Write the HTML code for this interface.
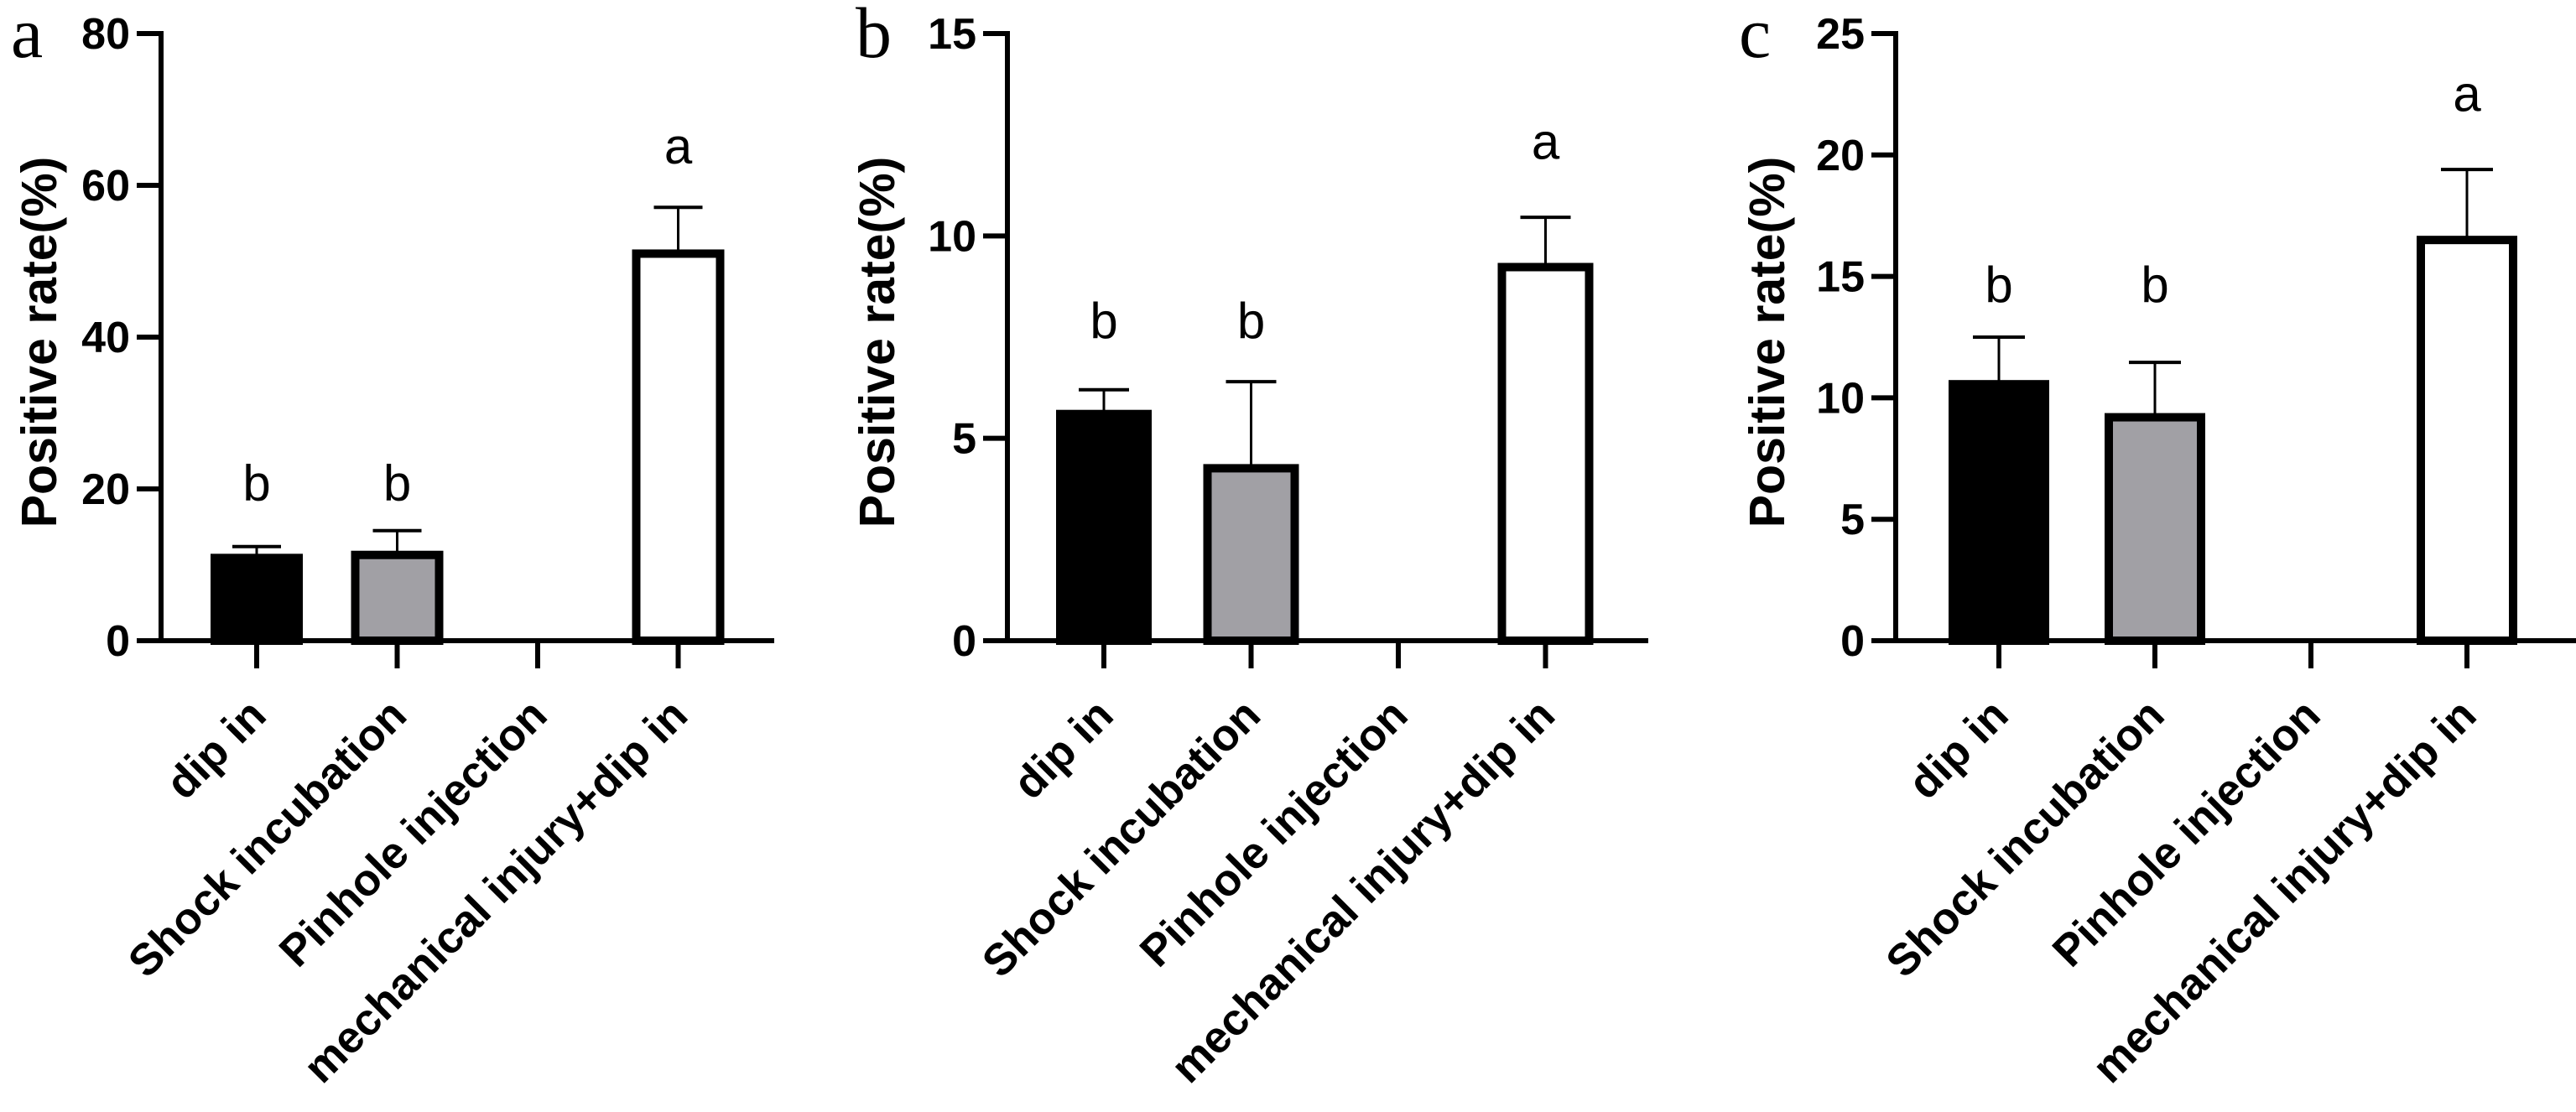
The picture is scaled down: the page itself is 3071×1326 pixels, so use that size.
<!DOCTYPE html>
<html><head><meta charset="utf-8"><style>
html,body{margin:0;padding:0;background:#fff;}
svg{display:block;}
text{font-family:"Liberation Sans",Arial,sans-serif;}
</style></head><body>
<svg id="fig" width="3071" height="1326" viewBox="0 0 3071 1326" xmlns="http://www.w3.org/2000/svg"></svg>
<script>
const categories = ["dip in","Shock incubation","Pinhole injection","mechanical injury+dip in"];
const panelLabels = ["a","b","c"];
const yMaxes = [80,15,25];
const yTickLabels = [["0","20","40","60","80"],["0","5","10","15"],["0","5","10","15","20","25"]];
const yTickValues = [[0,20,40,60,80],[0,5,10,15],[0,5,10,15,20,25]];
const meansA = [10.9,11.3,0,51.0];
const errTopA = [12.4,14.5,0,57.1];
const meansB = [5.6,4.26,0,9.23];
const errTopB = [6.2,6.4,0,10.46];
const meansC = [10.56,9.2,0,16.5];
const errTopC = [12.5,11.46,0,19.4];
const sigLetters = ["b","b","","a"];
const letterLevelA = [18.5,18.5,0,62.9];
const letterLevelB = [7.48,7.48,0,11.9];
const letterLevelC = [13.95,13.95,0,21.8];
const meansAll = [meansA,meansB,meansC];
const errAll = [errTopA,errTopB,errTopC];
const lettersAll = [letterLevelA,letterLevelB,letterLevelC];

// layout (pixels)
const layout = [
  {ax:192, x0:306, step:167.5, end:923, bw:110, lx:13, tx:67, cap:58},
  {ax:1201, x0:1316, step:175.5, end:1965, bw:114, lx:1020, tx:1066, cap:60},
  {ax:2260, x0:2383, step:186, end:3071, bw:120, lx:2073, tx:2127, cap:62}
];
const yTop = 40, y0 = 764;
const fills = ["#000000","#a1a0a5","none","#ffffff"];
const NS = "http://www.w3.org/2000/svg";
const svg = document.getElementById('fig');
function mk(tag, attrs, parent){ const e=document.createElementNS(NS,tag); for(const k in attrs) e.setAttribute(k,attrs[k]); (parent||svg).appendChild(e); return e; }

layout.forEach((L,p)=>{
  const g = mk('g',{});
  
  
  const ymax = yMaxes[p];
  const yS = v => y0 - (v/ymax)*(y0-yTop);
  const xS = i => L.x0 + i*L.step;

  const pl = mk('text',{x:L.lx,y:68,'font-size':86,style:'font-family:"Liberation Serif",serif'},g);
  pl.textContent = panelLabels[p];
  
  

  const tt = mk('text',{x:L.tx,y:408,'font-size':59,'font-weight':'bold','text-anchor':'middle',transform:`rotate(-90 ${L.tx} 408)`},g);
  tt.textContent = "Positive rate(%)";
  
  

  meansAll[p].forEach((v,i)=>{
    if(v<=0) return;
    const cx = xS(i);
    const et = errAll[p][i];
    const eb = mk('line',{x1:cx,x2:cx,y1:yS(v),y2:yS(et),stroke:'#000','stroke-width':3},g);
    
    
    const ec = mk('line',{x1:cx-L.cap/2,x2:cx+L.cap/2,y1:yS(et),y2:yS(et),stroke:'#000','stroke-width':4},g);
    
    
    const r = mk('rect',{x:cx-L.bw/2+5,y:yS(v),width:L.bw-10,height:y0-yS(v),fill:fills[i],stroke:'#000','stroke-width':10},g);
    
    
  });

  sigLetters.forEach((s,i)=>{
    if(!s) return;
    const t = mk('text',{x:xS(i),y:yS(lettersAll[p][i]),'font-size':60,'text-anchor':'middle'},g);
    t.textContent = s;
    
    
  });

  const ya = mk('line',{x1:L.ax,x2:L.ax,y1:yTop-3,y2:y0+3,stroke:'#000','stroke-width':6},g);
  
  
  const xa = mk('line',{x1:L.ax-3,x2:L.end,y1:y0,y2:y0,stroke:'#000','stroke-width':6},g);
  
  

  yTickValues[p].forEach((v,k)=>{
    const y = yS(v);
    const tk = mk('line',{x1:L.ax-29,x2:L.ax,y1:y,y2:y,stroke:'#000','stroke-width':6},g);
    
    
    const tl = mk('text',{x:L.ax-37,y:y+18,'font-size':52,'font-weight':'bold','text-anchor':'end'},g);
    tl.textContent = yTickLabels[p][k];
    
    
  });

  categories.forEach((c,i)=>{
    const cx = xS(i);
    const tk = mk('line',{x1:cx,x2:cx,y1:y0,y2:797,stroke:'#000','stroke-width':6},g);
    
    
    const px = cx+14, py = 856;
    const t = mk('text',{x:px,y:py,'font-size':53,'font-weight':'bold','text-anchor':'end',transform:`rotate(-45 ${px} ${py})`},g);
    t.textContent = c;
    
    
  });
});
</script>
</body></html>
